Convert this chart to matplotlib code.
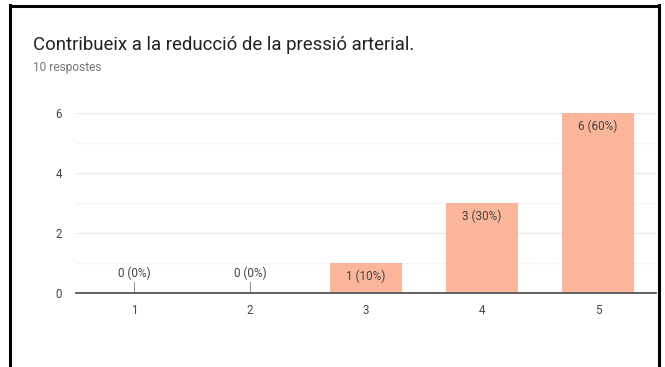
import matplotlib
matplotlib.use("Agg")
import matplotlib.pyplot as plt
from matplotlib.lines import Line2D

plt.rcParams["font.family"] = ["Roboto", "DejaVu Sans"]

categories = ["1", "2", "3", "4", "5"]
counts = [0, 0, 1, 3, 6]
total = 10
title = "Contribueix a la reducció de la pressió arterial."
subtitle = "10 respostes"

W, H = 665, 367
fig = plt.figure(figsize=(W / 100, H / 100), dpi=100)
fig.patch.set_facecolor("white")

# plot area in pixels: x 76..656, y 113..293
ax = fig.add_axes([76 / W, 1 - 293 / H, (656 - 76) / W, (293 - 113) / H])
xs = list(range(len(categories)))
ax.bar(xs, counts, width=0.62, color="#fbb59b", zorder=2)

ax.set_xlim(-0.5, len(categories) - 0.5)
ax.set_ylim(0, 6)
ax.set_yticks([0, 2, 4, 6])
ax.set_yticks([1, 3, 5], minor=True)
ax.set_xticks(xs)
ax.set_xticklabels(categories)
ax.grid(axis="y", which="major", color="#e8e8e8", lw=0.9, zorder=0)
ax.grid(axis="y", which="minor", color="#f4f4f4", lw=0.9, zorder=0)
for s in ["top", "right", "left"]:
    ax.spines[s].set_visible(False)
ax.spines["bottom"].set_color("#555555")
ax.spines["bottom"].set_linewidth(1.3)
ax.spines["bottom"].set_zorder(3)
ax.tick_params(axis="both", which="both", length=0, labelsize=8.3, colors="#444444")
ax.tick_params(axis="y", pad=10)
ax.tick_params(axis="x", pad=8)

for x, c in zip(xs, counts):
    label = f"{c} ({round(100 * c / total)}%)"
    if c == 0:
        ax.plot([x, x], [0, 0.37], color="#999999", lw=0.8, zorder=3)
        ax.text(x, 0.42, label, ha="center", va="bottom", fontsize=8.5, color="#444444")
    else:
        ax.annotate(label, (x, c), xytext=(0, -5), textcoords="offset points",
                    ha="center", va="top", fontsize=8.5, color="#444444")

fig.text(33 / W, 1 - 45 / H, title, fontsize=13.4, color="#212121", va="center")
fig.text(33 / W, 1 - 67 / H, subtitle, fontsize=8.6, color="#757575", va="center")

# screenshot frame
for xd, yd in [([9.5, 9.5], [5, H]), ([659, 659], [5, H]), ([9.5, 659], [5.5, 5.5])]:
    fig.add_artist(Line2D([v / W for v in xd], [1 - v / H for v in yd],
                          transform=fig.transFigure, color="black", lw=2.2))

fig.savefig("out.png", dpi=100)
